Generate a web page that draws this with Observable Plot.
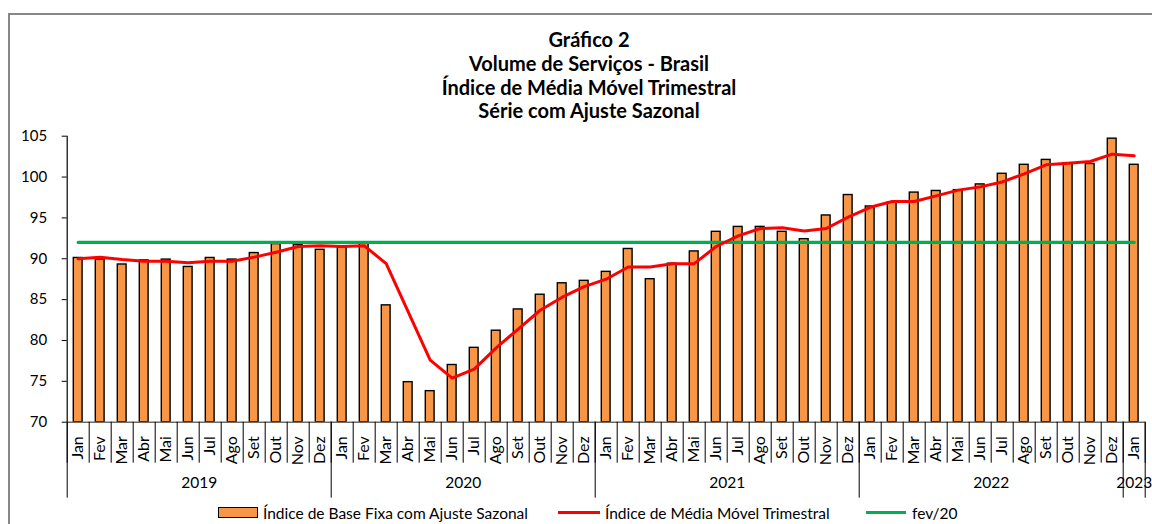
<!DOCTYPE html>
<html><head><meta charset="utf-8">
<script src="https://cdn.jsdelivr.net/npm/d3@7"></script>
<script src="https://cdn.jsdelivr.net/npm/@observablehq/plot@0.6"></script>
<style>
html,body{margin:0;padding:0;background:#fff;overflow:hidden;width:1152px;height:524px;}
#wrap{position:relative;width:1152px;height:524px;font-family:Lato,"Open Sans",sans-serif;color:#000;}
#frame{position:absolute;left:8px;top:13px;width:1200px;height:600px;border:2px solid #878787;box-sizing:border-box;}
#chart{position:absolute;left:0;top:0;}
#title{position:absolute;left:0;width:1178px;top:28px;text-align:center;font-weight:bold;font-size:20px;line-height:23.8px;}
.lg{position:absolute;font-size:15.5px;line-height:18px;top:504px;white-space:nowrap;}
.sw{position:absolute;}
</style></head>
<body><div id="wrap">
<div id="frame"></div>
<div id="chart"></div>
<div id="title">Gráfico 2<br>Volume de Serviços - Brasil<br>Índice de Média Móvel Trimestral<br>Série com Ajuste Sazonal</div>
<div class="sw" style="left:218px;top:507px;width:38px;height:9px;background:#F79646;border:1.5px solid #000;"></div>
<div class="lg" style="left:263px;">Índice de Base Fixa com Ajuste Sazonal</div>
<div class="sw" style="left:558px;top:511px;width:42px;height:3px;background:#FF0000;"></div>
<div class="lg" style="left:605px;">Índice de Média Móvel Trimestral</div>
<div class="sw" style="left:866px;top:511px;width:40px;height:3px;background:#00B050;"></div>
<div class="lg" style="left:912px;">fev/20</div>
</div>
<script>
const monthNames = ["Jan","Fev","Mar","Abr","Mai","Jun","Jul","Ago","Set","Out","Nov","Dez"];
const years = ["2019","2020","2021","2022","2023"];
const baseFixa = [
  90.1, 89.9, 89.3, 89.8, 89.9, 89.0, 90.1, 89.9, 90.7, 91.8, 91.7, 91.1,
  91.4, 91.9, 84.3, 74.9, 73.8, 77.0, 79.1, 81.2, 83.8, 85.6, 87.0, 87.3,
  88.4, 91.2, 87.5, 89.4, 90.9, 93.3, 93.9, 93.9, 93.3, 92.4, 95.3, 97.8,
  96.4, 96.9, 98.1, 98.3, 98.4, 99.1, 100.4, 101.5, 102.1, 101.7, 101.6, 104.7,
  101.5
];
const mediaMovel = [
  90.0, 90.2, 89.9, 89.7, 89.7, 89.5, 89.7, 89.7, 90.2, 90.8, 91.5, 91.6,
  91.5, 91.6, 89.4, 83.5, 77.6, 75.4, 76.5, 79.1, 81.4, 83.7, 85.3, 86.6,
  87.5, 89.0, 89.0, 89.4, 89.4, 91.5, 92.8, 93.7, 93.8, 93.4, 93.7, 95.1,
  96.3, 97.0, 97.0, 97.7, 98.4, 98.8, 99.4, 100.4, 101.5, 101.7, 101.9, 102.8,
  102.6
];
const fev20 = 92.0;
const yTicks = [70, 75, 80, 85, 90, 95, 100, 105];

const rows = baseFixa.map((v, i) => ({
  i, m: monthNames[i % 12], y: years[Math.floor(i / 12)], v, mm: mediaMovel[i]
}));
const n = rows.length;
const bounds = d3.range(0, n + 1);
const yearInfo = years.map((y, k) => {
  const idx = rows.filter(r => r.y === y).map(r => r.i);
  return {y, c: (d3.min(idx) + d3.max(idx) + 1) / 2, start: d3.min(idx), end: d3.max(idx) + 1};
});
const yearBounds = Array.from(new Set(yearInfo.flatMap(d => [d.start, d.end])));

const chart = Plot.plot({
  width: 1152, height: 524,
  marginLeft: 66.7, marginRight: 7.3, marginTop: 135.7, marginBottom: 102.3,
  style: {fontFamily: "Lato, 'Open Sans', sans-serif", fontSize: "15px", color: "#000", background: "transparent"},
  x: {type: "linear", domain: [0, n], label: null},
  y: {domain: [70, 105], label: null},
  marks: [
    Plot.rect(rows, {x1: d => d.i + 0.3, x2: d => d.i + 0.7, y1: 70, y2: "v", fill: "#F79646", stroke: "#000", strokeWidth: 1.4}),
    Plot.lineY(rows, {x: d => d.i + 0.5, y: () => fev20, stroke: "#00B050", strokeWidth: 3.2}),
    Plot.lineY(rows, {x: d => d.i + 0.5, y: "mm", stroke: "#FF0000", strokeWidth: 3, strokeLinejoin: "round"}),
    Plot.ruleY([70], {stroke: "#6b6b6b", strokeWidth: 1.5}),
    Plot.ruleX([0], {stroke: "#000", strokeWidth: 1.2}),
    Plot.axisY({ticks: yTicks, tickSize: 5, tickPadding: 15, fontSize: 15, stroke: "#000", label: null}),
    Plot.axisX(bounds, {tickSize: 41, tickFormat: () => "", stroke: "#000", strokeWidth: 1, label: null}),
    Plot.axisX(yearBounds, {tickSize: 76, tickFormat: () => "", stroke: "#000", strokeWidth: 1, label: null}),
    Plot.text(rows, {x: d => d.i + 0.5, text: "m", frameAnchor: "bottom", dy: 14, rotate: -90, textAnchor: "end", lineAnchor: "middle", fontSize: 16, letterSpacing: 0.6}),
    Plot.text(yearInfo, {x: "c", text: "y", frameAnchor: "bottom", dy: 66, fontSize: 15.5})
  ]
});
document.getElementById("chart").appendChild(chart);
</script>
</body></html>
